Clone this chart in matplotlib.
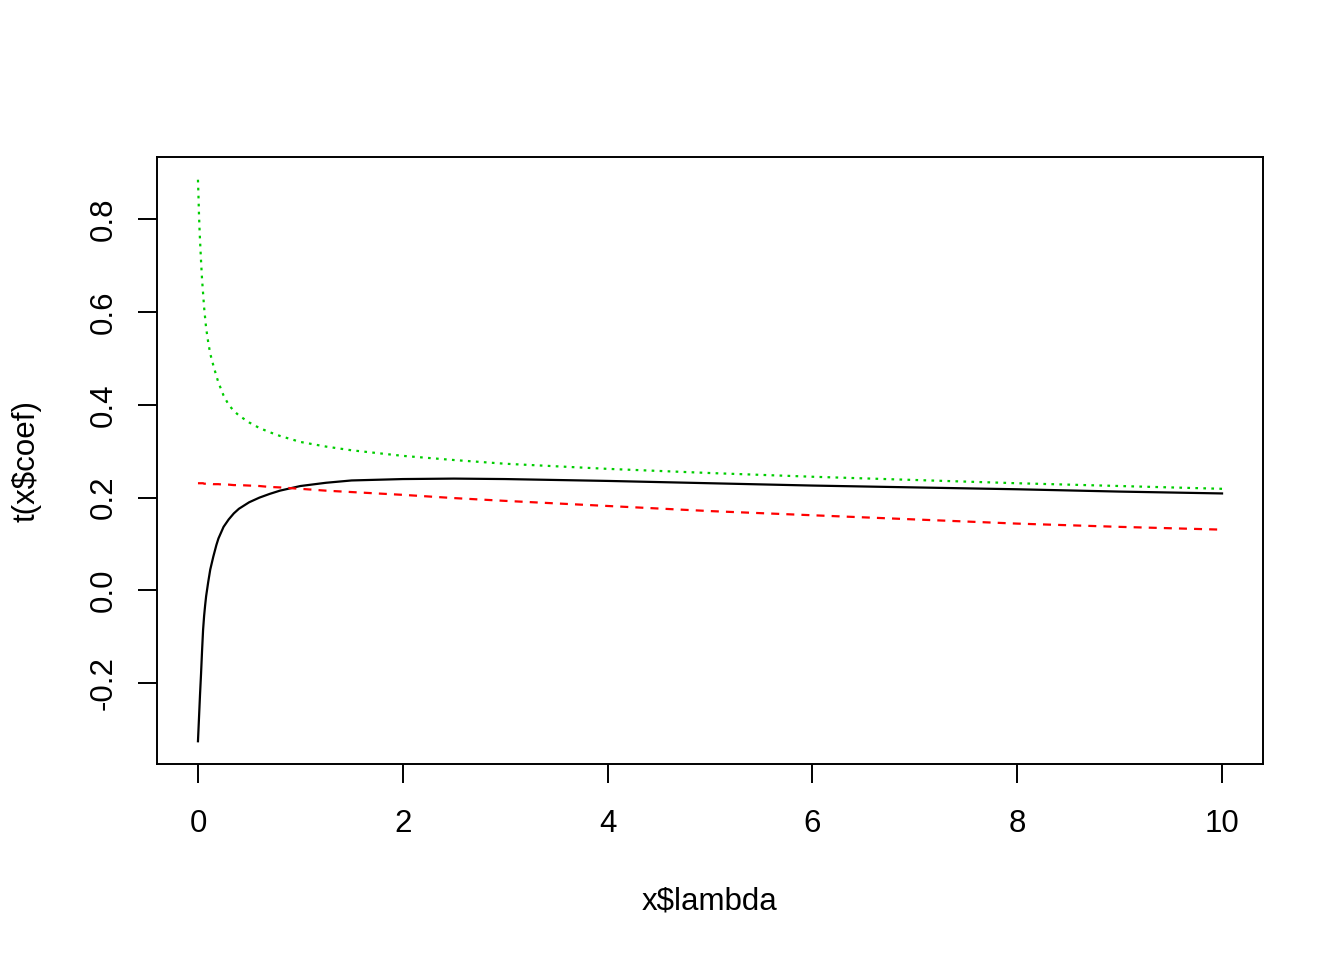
import matplotlib
matplotlib.use("Agg")
import matplotlib.pyplot as plt

plt.rcParams['font.family'] = ['Liberation Sans', 'DejaVu Sans']

# ridge trace: lambda and one coefficient per curve
lam = [0, 0.005, 0.01, 0.015, 0.02, 0.03, 0.04, 0.05, 0.06, 0.07, 0.08, 0.1, 0.12, 0.15,
       0.18, 0.2, 0.25, 0.3, 0.35, 0.4, 0.5, 0.6, 0.7, 0.8, 1.0, 1.25, 1.5, 2, 2.5, 3,
       4, 5, 6, 7, 8, 9, 10]
coef1 = [-0.325, -0.30, -0.275, -0.25, -0.225, -0.18, -0.13, -0.085, -0.055, -0.032, -0.012,
         0.018, 0.045, 0.073, 0.098, 0.112, 0.137, 0.153, 0.166, 0.176, 0.190, 0.200, 0.208,
         0.215, 0.225, 0.232, 0.237, 0.240, 0.241, 0.240, 0.236, 0.231, 0.226, 0.222, 0.218,
         0.213, 0.209]
coef2 = [0.231, 0.231, 0.231, 0.231, 0.231, 0.231, 0.231, 0.231, 0.230, 0.230, 0.230,
         0.230, 0.230, 0.229, 0.229, 0.229, 0.228, 0.228, 0.227, 0.227, 0.226, 0.225, 0.223,
         0.222, 0.219, 0.215, 0.212, 0.206, 0.199, 0.193, 0.182, 0.171, 0.162, 0.153, 0.144,
         0.137, 0.131]
coef3 = [0.885, 0.85, 0.81, 0.78, 0.755, 0.71, 0.67, 0.64, 0.61, 0.587, 0.565, 0.535, 0.51,
         0.485, 0.462, 0.448, 0.42, 0.40, 0.387, 0.377, 0.362, 0.350, 0.341, 0.333, 0.320,
         0.310, 0.302, 0.290, 0.281, 0.273, 0.262, 0.253, 0.245, 0.238, 0.231, 0.225, 0.219]

xticks = [0, 2, 4, 6, 8, 10]
yticks = [-0.2, 0.0, 0.2, 0.4, 0.6, 0.8]

fig = plt.figure(figsize=(13.44, 9.6), dpi=100)
ax = fig.add_axes([157/1344, 1 - 764/960, 1106/1344, 607/960])

lw = 1.6
ax.plot(lam, coef1, color='black', lw=lw)
ax.plot(lam, coef2, color='#FF0000', lw=lw, dashes=(3.6, 3.2))
ax.plot(lam, coef3, color='#00CD00', lw=lw, dashes=(1.2, 2.4))

ax.set_xlim(-0.4, 10.4)
ax.set_ylim(-0.374, 0.934)
ax.set_xticks(xticks)
ax.set_xticklabels([str(t) for t in xticks])
ax.set_yticks(yticks)
ax.set_yticklabels(['%.1f' % t for t in yticks])

for s in ax.spines.values():
    s.set_linewidth(1.4)
ax.tick_params(axis='both', length=13.7, width=1.4, labelsize=22.5)
ax.tick_params(axis='x', pad=19)
ax.tick_params(axis='y', pad=14)
plt.setp(ax.get_yticklabels(), rotation=90, va='center')

ax.set_xlabel('x$lambda', fontsize=22.5)
ax.set_ylabel('t(x$coef)', fontsize=22.5)
ax.xaxis.label.set_va('center')
ax.yaxis.label.set_va('center')
ax.xaxis.set_label_coords(0.5, (764 - 902) / 607)
ax.yaxis.set_label_coords((27 - 157) / 1106, 0.5)

fig.savefig('out.png', dpi=100)
